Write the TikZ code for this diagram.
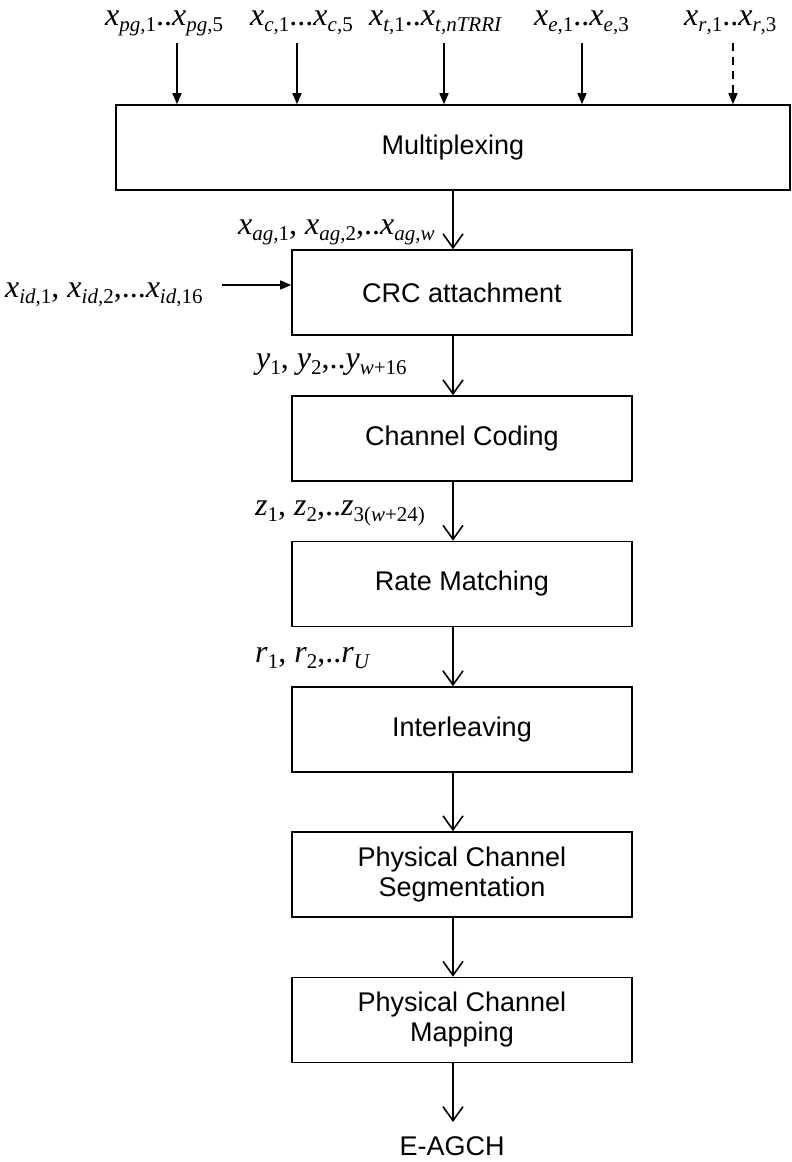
\documentclass[tikz,border=0pt]{standalone}
\usepackage{fontspec}
\setmainfont{Liberation Sans}
\newfontfamily\tms{Liberation Serif}
\usetikzlibrary{arrows.meta}
\newcommand{\subf}{\fontsize{21}{21}\selectfont}
\newcommand{\mx}[2]{\textit{#1}\raisebox{-6.5pt}{\subf #2}}
\begin{document}
\begin{tikzpicture}[x=1pt,y=-1pt,
  box/.style={draw, line width=1.6pt, minimum width=340pt, minimum height=85pt, inner sep=0pt,
    font=\fontsize{27}{30}\selectfont, align=center},
  lab/.style={font=\tms\fontsize{32}{32}\selectfont, inner sep=0pt, anchor=base west},
  farr/.style={line width=1.6pt, -{Triangle[length=11pt,width=9pt]}},
  varr/.style={line width=1.6pt, -{Straight Barb[length=14pt,width=20pt]}}]
\useasboundingbox (0,0) rectangle (792,1162);

% top inputs
\node[lab] (in1) at (105,25) {\mx{x}{\textit{pg},1}..\mx{x}{\textit{pg},5}};
\node[lab] (in2) at (250,25) {\mx{x}{\textit{c},1}...\mx{x}{\textit{c},5}};
\node[lab] (in3) at (369,25) {\mx{x}{\textit{t},1}..\mx{x}{\textit{t},\textit{nTRRI}}};
\node[lab] (in4) at (534,25) {\mx{x}{\textit{e},1}..\mx{x}{\textit{e},3}};
\node[lab] (in5) at (684,25) {\mx{x}{\textit{r},1}..\mx{x}{\textit{r},3}};

% boxes
\node[box, minimum width=674pt] (mux) at (453,147.5) {Multiplexing};
\node[box] (crc) at (462,292.5) {CRC attachment};
\node[box] (cc)  at (462,438.5) {Channel Coding};
\node[box] (rm)  at (462,584) {Rate Matching};
\node[box] (il)  at (462,729.5) {Interleaving};
\node[box] (pcs) at (462,874.5) {Physical Channel\\Segmentation};
\node[box] (pcm) at (462,1020) {Physical Channel\\Mapping};
\node[font=\fontsize{27}{30}\selectfont, inner sep=0pt, anchor=base] (out) at (452,1155) {E-AGCH};

% side labels
\node[lab] (xag) at (238,234) {\mx{x}{\textit{ag},1}, \mx{x}{\textit{ag},2},..\mx{x}{\textit{ag},\textit{w}}};
\node[lab] (xid) at (5,297) {\mx{x}{\textit{id},1}, \mx{x}{\textit{id},2},...\mx{x}{\textit{id},16}};
\node[lab] (ylab) at (256,368) {\mx{y}{1}, \mx{y}{2},..\mx{y}{\textit{w}+16}};
\node[lab] (zlab) at (255,515) {\mx{z}{1}, \mx{z}{2},..\mx{z}{3(\textit{w}+24)}};
\node[lab] (rlab) at (255,662) {\mx{r}{1}, \mx{r}{2},..\mx{r}{\textit{U}}};

% input arrows
\coordinate (a1) at (177,43);
\coordinate (a2) at (297,43);
\coordinate (a3) at (444,43);
\coordinate (a4) at (582,43);
\coordinate (a5) at (733,43);
\draw[farr] (a1) -- (a1 |- mux.north);
\draw[farr] (a2) -- (a2 |- mux.north);
\draw[farr] (a3) -- (a3 |- mux.north);
\draw[farr] (a4) -- (a4 |- mux.north);
\draw[farr, dash pattern=on 8pt off 6pt] (a5) -- (a5 |- mux.north);

\coordinate (xs) at (222,285);
\draw[farr] (xs) -- (xs -| crc.west);

% main chain
\coordinate (cx) at (453,0);
\coordinate (endp) at (453,1122);
\draw[varr] (mux.south -| cx) -- (crc.north -| cx);
\draw[varr] (crc.south -| cx) -- (cc.north -| cx);
\draw[varr] (cc.south -| cx) -- (rm.north -| cx);
\draw[varr] (rm.south -| cx) -- (il.north -| cx);
\draw[varr] (il.south -| cx) -- (pcs.north -| cx);
\draw[varr] (pcs.south -| cx) -- (pcm.north -| cx);
\draw[varr] (pcm.south -| cx) -- (endp);
\end{tikzpicture}
\end{document}
